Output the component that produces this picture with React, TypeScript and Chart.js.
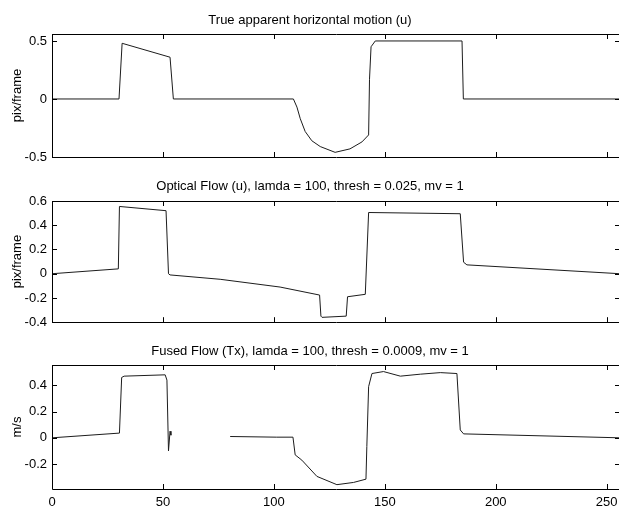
import React, { useEffect, useRef } from 'react';
import Chart from 'chart.js/auto';

// ---- data ----
const xTicks = [0, 50, 100, 150, 200, 250];
const xMin = 0;
const xMax = 256;

const trueX = [0, 30.2, 31.6, 53.2, 54.7, 108.8, 110.4, 111.9, 114.1, 117.1, 120.9, 127.6, 134.3, 139.7, 142.7, 143.1, 143.8, 145.7, 184.8, 185.4, 256];
const trueU = [0, 0, 0.48, 0.36, 0, 0, -0.07, -0.17, -0.28, -0.36, -0.41, -0.46, -0.43, -0.37, -0.31, 0.17, 0.45, 0.5, 0.5, 0, 0];

const flowX = [0, 29.9, 30.4, 51.4, 52.5, 53.2, 75.8, 102.8, 120.6, 121.2, 121.7, 132.6, 133.2, 141.2, 142.7, 184, 185.5, 187, 256];
const flowU = [0, 0.04, 0.555, 0.52, 0.0, -0.01, -0.046, -0.11, -0.176, -0.35, -0.36, -0.35, -0.19, -0.17, 0.505, 0.495, 0.095, 0.073, 0.0];

const fusedX = [0, 30.4, 31.4, 32.5, 51, 51.8, 52.5, 53.2, 53.6, 54, 80.3, 101.3, 108.6, 109.6, 112.6, 119.4, 128.4, 135.9, 141.5, 141.9, 142.7, 144.2, 149.4, 157, 166, 175, 182.5, 184, 185.5, 256];
const fusedTx = [0, 0.036, 0.46, 0.47, 0.48, 0.44, -0.1, 0.05, 0.02, null, 0.01, 0.005, 0.005, -0.13, -0.17, -0.294, -0.357, -0.34, -0.315, -0.066, 0.39, 0.49, 0.505, 0.47, 0.485, 0.497, 0.49, 0.06, 0.03, 0.0];

const yTicks1 = [-0.5, 0, 0.5];
const yTicks2 = [-0.4, -0.2, 0, 0.2, 0.4, 0.6];
const yTicks3 = [-0.2, 0, 0.2, 0.4];

const titles = [
  'True apparent horizontal motion (u)',
  'Optical Flow (u), lamda = 100, thresh = 0.025, mv = 1',
  'Fused Flow (Tx), lamda = 100, thresh = 0.0009, mv = 1',
];
const yLabels = ['pix/frame', 'pix/frame', 'm/s'];

// ---- layout / style ----
const FONT = 'Liberation Sans, Arial, Helvetica, sans-serif';
const W = 640;

const panels = [
  { xs: trueX, ys: trueU, yMin: -0.5, yMax: 0.56, yTicks: yTicks1, top: 0, height: 170, tPadTop: 12.9, tPadBot: 5.5, bottomSpace: 13, showX: false },
  { xs: flowX, ys: flowU, yMin: -0.4, yMax: 0.6, yTicks: yTicks2, top: 170, height: 165, tPadTop: 8.2, tPadBot: 7.2, bottomSpace: 11, showX: false },
  { xs: fusedX, ys: fusedTx, yMin: -0.39, yMax: 0.555, yTicks: yTicks3, top: 335, height: 171, tPadTop: 8.9, tPadBot: 5.5, bottomSpace: 17, showX: true },
];

const boxPlugin = {
  id: 'matlabBox',
  afterDraw(chart: any) {
    const { ctx, chartArea } = chart;
    const { left, right, top, bottom } = chartArea;
    const xs = chart.scales.x;
    const ys = chart.scales.y;
    const tl = 5;
    ctx.save();
    ctx.strokeStyle = '#000';
    ctx.lineWidth = 1;
    ctx.beginPath();
    ctx.rect(Math.round(left) + 0.5, Math.round(top) + 0.5, Math.round(right - left), Math.round(bottom - top));
    for (const t of xs.ticks) {
      const px = Math.round(xs.getPixelForValue(t.value)) + 0.5;
      ctx.moveTo(px, bottom);
      ctx.lineTo(px, bottom - tl);
      ctx.moveTo(px, top);
      ctx.lineTo(px, top + tl);
    }
    for (const t of ys.ticks) {
      const py = Math.round(ys.getPixelForValue(t.value)) + 0.5;
      ctx.moveTo(left, py);
      ctx.lineTo(left + tl, py);
      ctx.moveTo(right, py);
      ctx.lineTo(right - tl, py);
    }
    ctx.stroke();
    ctx.restore();
  },
};

function Panel({ idx }: { idx: number }) {
  const ref = useRef<HTMLCanvasElement | null>(null);
  const p = panels[idx];
  useEffect(() => {
    if (!ref.current) return;
    const font = { family: FONT, size: 13, weight: 'normal' as const };
    const chart = new Chart(ref.current, {
      type: 'line',
      data: {
        datasets: [
          {
            data: p.xs.map((x, i) => ({ x, y: p.ys[i] })),
            borderColor: '#1c1c1c',
            borderWidth: 1,
            pointRadius: 0,
            tension: 0,
            spanGaps: false,
            fill: false,
          },
        ],
      },
      options: {
        animation: false,
        responsive: false,
        events: [],
        layout: { padding: { left: 0, right: W - 620, top: 0, bottom: 0 } },
        plugins: {
          legend: { display: false },
          tooltip: { enabled: false },
          title: {
            display: true,
            text: titles[idx],
            color: '#000',
            font,
            padding: { top: p.tPadTop, bottom: p.tPadBot },
          },
        },
        scales: {
          x: {
            type: 'linear',
            min: xMin,
            max: xMax,
            grid: { display: false, drawTicks: false },
            border: { display: false },
            afterBuildTicks: (s: any) => {
              s.ticks = xTicks.map((v) => ({ value: v }));
            },
            afterFit: (s: any) => {
              s.height = p.bottomSpace;
            },
            ticks: {
              display: p.showX,
              color: '#000',
              font,
              padding: 6,
              maxRotation: 0,
              autoSkip: false,
              callback: (v: any) => String(v),
            },
          },
          y: {
            type: 'linear',
            min: p.yMin,
            max: p.yMax,
            grid: { display: false, drawTicks: false },
            border: { display: false },
            afterBuildTicks: (s: any) => {
              s.ticks = p.yTicks.map((v) => ({ value: v }));
            },
            afterFit: (s: any) => {
              s.width = 52;
            },
            ticks: {
              color: '#000',
              font,
              padding: 5,
              autoSkip: false,
              callback: (v: any) => String(v),
            },
            title: {
              display: true,
              text: yLabels[idx],
              color: '#000',
              font,
              padding: { top: 9.5, bottom: 0 },
            },
          },
        },
      },
      plugins: [boxPlugin],
    } as any);
    return () => chart.destroy();
  }, []);
  return (
    <canvas
      ref={ref}
      width={W}
      height={p.height}
      style={{ position: 'absolute', left: 0, top: p.top, width: W, height: p.height }}
    />
  );
}

export default function App() {
  return (
    <div style={{ position: 'fixed', left: 0, top: 0, width: W, height: 506, background: '#fff', overflow: 'hidden' }}>
      {panels.map((_, i) => (
        <Panel key={i} idx={i} />
      ))}
    </div>
  );
}
